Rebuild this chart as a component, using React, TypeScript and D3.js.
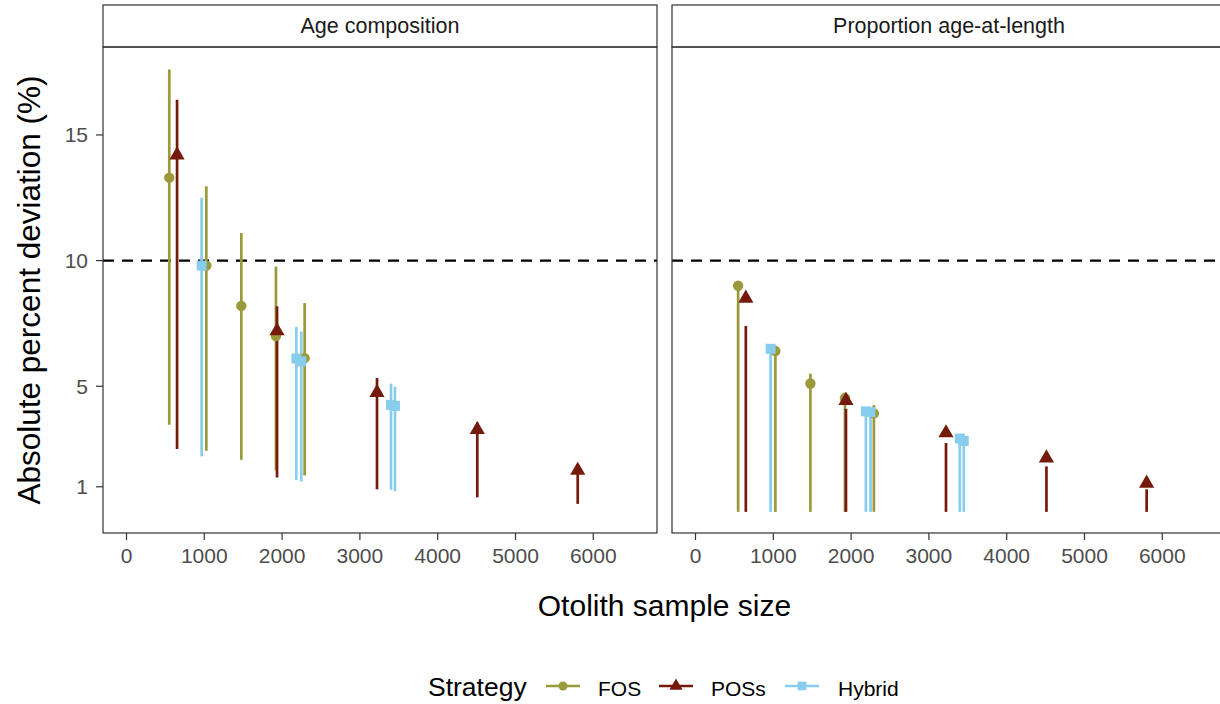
import React, { useEffect, useRef } from 'react';
import * as d3 from 'd3';

// One row per simulated design: sample size, lower bound, point estimate, upper bound
type Row = { n: number; lo: number; mid: number; hi: number };

const panels = ['Age composition', 'Proportion age-at-length'];
const strategies = ['FOS', 'POSs', 'Hybrid'];
const strategyColors = ['#9b9a3b', '#761a0b', '#88cdee'];

const ageFOS: Row[] = [
  { n: 550, lo: 3.47, mid: 13.3, hi: 17.6 },
  { n: 1026, lo: 2.43, mid: 9.8, hi: 12.96 },
  { n: 1476, lo: 2.07, mid: 8.2, hi: 11.1 },
  { n: 1921, lo: 1.65, mid: 7.0, hi: 9.76 },
  { n: 2290, lo: 1.45, mid: 6.12, hi: 8.31 },
];
const agePOSs: Row[] = [
  { n: 650, lo: 2.5, mid: 14.2, hi: 16.4 },
  { n: 1935, lo: 1.37, mid: 7.2, hi: 8.18 },
  { n: 3220, lo: 0.9, mid: 4.75, hi: 5.33 },
  { n: 4509, lo: 0.58, mid: 3.27, hi: 3.56 },
  { n: 5800, lo: 0.32, mid: 1.65, hi: 1.9 },
];
const ageHybrid: Row[] = [
  { n: 966, lo: 2.2, mid: 9.8, hi: 12.5 },
  { n: 2183, lo: 1.27, mid: 6.1, hi: 7.36 },
  { n: 2247, lo: 1.21, mid: 5.99, hi: 7.17 },
  { n: 3400, lo: 0.88, mid: 4.26, hi: 5.1 },
  { n: 3451, lo: 0.82, mid: 4.22, hi: 4.98 },
];

const paalFOS: Row[] = [
  { n: 548, lo: 0, mid: 9.0, hi: 9.0 },
  { n: 1027, lo: 0, mid: 6.4, hi: 6.4 },
  { n: 1477, lo: 0, mid: 5.11, hi: 5.5 },
  { n: 1921, lo: 0, mid: 4.53, hi: 4.75 },
  { n: 2293, lo: 0, mid: 3.92, hi: 4.25 },
];
const paalPOSs: Row[] = [
  { n: 647, lo: 0, mid: 8.5, hi: 7.4 },
  { n: 1934, lo: 0, mid: 4.43, hi: 4.1 },
  { n: 3220, lo: 0, mid: 3.14, hi: 2.74 },
  { n: 4511, lo: 0, mid: 2.14, hi: 1.81 },
  { n: 5799, lo: 0, mid: 1.14, hi: 0.9 },
];
const paalHybrid: Row[] = [
  { n: 965, lo: 0, mid: 6.49, hi: 6.49 },
  { n: 2190, lo: 0, mid: 4.0, hi: 4.0 },
  { n: 2250, lo: 0, mid: 3.97, hi: 3.97 },
  { n: 3397, lo: 0, mid: 2.92, hi: 2.92 },
  { n: 3448, lo: 0, mid: 2.82, hi: 2.82 },
];

const xTicks = [0, 1000, 2000, 3000, 4000, 5000, 6000];
const yTicks = [1, 5, 10, 15];
const threshold = 10;

const panelData: Row[][][] = [
  [ageFOS, agePOSs, ageHybrid],
  [paalFOS, paalPOSs, paalHybrid],
];

const FONT = "'Liberation Sans', Arial, Helvetica, sans-serif";

export default function App() {
  const svgRef = useRef<SVGSVGElement>(null);

  useEffect(() => {
    if (!svgRef.current) return;
    const svg = d3.select(svgRef.current);
    svg.selectAll('*').remove();

    const width = 1220;
    const height = 704;
    const top = 47;
    const bottom = 533;
    const stripTop = 5;
    const panelLefts = [103, 672];
    const panelW = 554;

    svg.attr('width', width).attr('height', height).style('font-family', FONT);

    const y = d3.scaleLinear().domain([-0.84, 18.5]).range([bottom, top]);

    const symbols = [d3.symbolCircle, d3.symbolTriangle, d3.symbolSquare];
    const symbolSizes = [85, 100, 100];

    panels.forEach((title, p) => {
      const x0 = panelLefts[p];
      const x = d3.scaleLinear().domain([-302, 6819]).range([x0, x0 + panelW]);
      const g = svg.append('g');

      // strip
      g.append('rect')
        .attr('x', x0).attr('y', stripTop)
        .attr('width', panelW).attr('height', top - stripTop)
        .attr('fill', 'white').attr('stroke', '#333').attr('stroke-width', 1.2);
      g.append('text')
        .attr('x', x0 + panelW / 2).attr('y', (stripTop + top) / 2)
        .attr('text-anchor', 'middle').attr('dominant-baseline', 'central')
        .attr('fill', '#1a1a1a').style('font-size', '21.5px')
        .text(title);

      // threshold
      g.append('line')
        .attr('x1', x0).attr('x2', x0 + panelW)
        .attr('y1', y(threshold)).attr('y2', y(threshold))
        .attr('stroke', 'black').attr('stroke-width', 2.4)
        .attr('stroke-dasharray', '11 8');

      // error bars
      panelData[p].forEach((rows, s) => {
        g.append('g').selectAll('line')
          .data(rows)
          .enter().append('line')
          .attr('x1', d => x(d.n)).attr('x2', d => x(d.n))
          .attr('y1', d => y(d.lo)).attr('y2', d => y(d.hi))
          .attr('stroke', strategyColors[s]).attr('stroke-width', 2.7);
      });

      // points
      panelData[p].forEach((rows, s) => {
        const sym = d3.symbol().type(symbols[s]).size(symbolSizes[s]);
        g.append('g').selectAll('path')
          .data(rows)
          .enter().append('path')
          .attr('d', sym)
          .attr('transform', d => `translate(${x(d.n)},${y(d.mid)})`)
          .attr('fill', strategyColors[s]);
      });

      // panel border
      g.append('rect')
        .attr('x', x0).attr('y', top)
        .attr('width', panelW).attr('height', bottom - top)
        .attr('fill', 'none').attr('stroke', '#333').attr('stroke-width', 1.2);

      // x axis
      const xa = g.append('g');
      xTicks.forEach(t => {
        xa.append('line')
          .attr('x1', x(t)).attr('x2', x(t))
          .attr('y1', bottom).attr('y2', bottom + 7)
          .attr('stroke', '#333').attr('stroke-width', 1.2);
        xa.append('text')
          .attr('x', x(t)).attr('y', bottom + 30)
          .attr('text-anchor', 'middle')
          .attr('fill', '#4d4d4d').style('font-size', '21px')
          .text(t);
      });

      // y axis only on the first panel
      if (p === 0) {
        yTicks.forEach(t => {
          g.append('line')
            .attr('x1', x0 - 7).attr('x2', x0)
            .attr('y1', y(t)).attr('y2', y(t))
            .attr('stroke', '#333').attr('stroke-width', 1.2);
          g.append('text')
            .attr('x', x0 - 15).attr('y', y(t))
            .attr('text-anchor', 'end').attr('dominant-baseline', 'central')
            .attr('fill', '#4d4d4d').style('font-size', '21px')
            .text(t);
        });
      }
    });

    // axis titles
    svg.append('text')
      .attr('x', 664.5).attr('y', 616)
      .attr('text-anchor', 'middle')
      .style('font-size', '30px')
      .text('Otolith sample size');

    svg.append('text')
      .attr('transform', `translate(29,${(top + bottom) / 2}) rotate(-90)`)
      .attr('text-anchor', 'middle').attr('dominant-baseline', 'central')
      .style('font-size', '31.5px')
      .text('Absolute percent deviation (%)');

    // legend
    const leg = svg.append('g');
    const legY = 686;
    leg.append('text')
      .attr('x', 428).attr('y', 696)
      .style('font-size', '26.5px')
      .text('Strategy');
    const keyStarts = [546, 659, 785];
    const labelStarts = [598, 711, 838];
    strategies.forEach((s, i) => {
      leg.append('line')
        .attr('x1', keyStarts[i]).attr('x2', keyStarts[i] + 34)
        .attr('y1', legY).attr('y2', legY)
        .attr('stroke', strategyColors[i]).attr('stroke-width', 2.7);
      leg.append('path')
        .attr('d', d3.symbol().type(symbols[i]).size(symbolSizes[i] * 0.75)())
        .attr('transform', `translate(${keyStarts[i] + 17},${legY})`)
        .attr('fill', strategyColors[i]);
      leg.append('text')
        .attr('x', labelStarts[i]).attr('y', 696)
        .style('font-size', '21px')
        .text(s);
    });
  }, []);

  return (
    <div style={{ position: 'absolute', left: 0, top: 0, background: 'white' }}>
      <svg ref={svgRef}></svg>
    </div>
  );
}
